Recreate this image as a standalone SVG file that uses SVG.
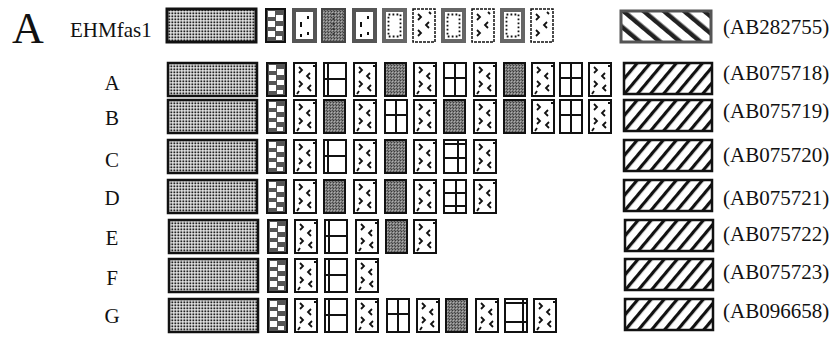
<svg xmlns="http://www.w3.org/2000/svg" xmlns:xlink="http://www.w3.org/1999/xlink" width="833" height="339" viewBox="0 0 833 339">
<style>
.lab{font-family:"Liberation Serif","Times New Roman",serif;font-size:21px;fill:#111}
.big{font-family:"Liberation Serif","Times New Roman",serif;font-size:44px;fill:#111}
.bx{stroke:#111;stroke-width:2}
.ln{stroke:#111;stroke-width:2;fill:none}
.cv{stroke:#111;stroke-width:1.8;fill:none}
</style>
<defs>
<pattern id="stip" width="3" height="3" patternUnits="userSpaceOnUse">
<rect width="3" height="3" fill="#f4f4f4"/><rect x="0.4" y="0.4" width="1.9" height="1.9" fill="#222"/>
</pattern>
<pattern id="mott" width="3" height="3" patternUnits="userSpaceOnUse">
<rect width="3" height="3" fill="#7e7e7e"/><rect x="1" y="0" width="1" height="1" fill="#3a3a3a"/><rect x="0" y="2" width="1" height="1" fill="#4a4a4a"/><rect x="2" y="1" width="1" height="1" fill="#b0b0b0"/>
</pattern>
<pattern id="hr" width="10" height="10" patternUnits="userSpaceOnUse" patternTransform="rotate(40)">
<rect width="10" height="10" fill="#fff"/><rect width="3.2" height="10" fill="#111"/>
</pattern>
<pattern id="hl" width="13" height="13" patternUnits="userSpaceOnUse" patternTransform="rotate(-50)">
<rect width="13" height="13" fill="#fff"/><rect width="4.5" height="13" fill="#222"/>
</pattern>
<g id="dot"><rect x="1" y="1" width="89" height="33" fill="url(#stip)" stroke="#111" stroke-width="2.5"/></g>
<g id="hat"><rect x="1" y="1" width="88" height="31" fill="url(#hr)" stroke="#111" stroke-width="2.5"/></g>
<g id="chk">
<rect x="1" y="1" width="19" height="33" fill="#555" class="bx"/>
<rect x="3" y="3" width="7" height="6" fill="#fff"/><rect x="11" y="7" width="7" height="6" fill="#fff"/>
<rect x="3" y="13" width="7" height="6" fill="#fff"/><rect x="11" y="18" width="7" height="5" fill="#fff"/>
<rect x="3" y="23" width="7" height="6" fill="#fff"/><rect x="11" y="28" width="6" height="4" fill="#fff"/>
</g>
<g id="chev">
<rect x="1" y="1" width="22" height="33" fill="#fff" class="bx"/>
<polyline class="cv" points="6,5 9,8 6,11"/>
<polyline class="cv" points="17,11 14,14 17,17"/>
<polyline class="cv" points="6,19 9,22 6,25"/>
<polyline class="cv" points="18,23 15,26 18,29"/>
<line class="cv" x1="4" y1="32" x2="6" y2="29"/>
<line class="cv" x1="20" y1="4" x2="22" y2="4"/>
</g>
<g id="gray"><rect x="1" y="1" width="21" height="33" fill="url(#mott)" class="bx"/></g>
<g id="win2"><rect x="1" y="1" width="22" height="33" fill="#fff" class="bx"/><line class="ln" x1="1" y1="17" x2="23" y2="17"/><line class="ln" x1="5" y1="1" x2="5" y2="34" stroke-width="1.2"/></g>
<g id="win2t"><rect x="1" y="1" width="22" height="33" fill="#fff" class="bx"/><line class="ln" x1="1" y1="5" x2="23" y2="5"/><line class="ln" x1="1" y1="24" x2="23" y2="24"/><line class="ln" x1="19" y1="1" x2="19" y2="34" stroke-width="1.2"/></g>
<g id="win4"><rect x="1" y="1" width="22" height="33" fill="#fff" class="bx"/><line class="ln" x1="12" y1="1" x2="12" y2="34"/><line class="ln" x1="1" y1="16" x2="23" y2="16"/></g>
<g id="win4t"><rect x="1" y="1" width="22" height="33" fill="#fff" class="bx"/><line class="ln" x1="15" y1="1" x2="15" y2="34"/><line class="ln" x1="1" y1="5" x2="23" y2="5" stroke-width="1.2"/><line class="ln" x1="1" y1="19" x2="23" y2="19"/></g>
<g id="win6"><rect x="1" y="1" width="22" height="33" fill="#fff" class="bx"/><line class="ln" x1="13" y1="1" x2="13" y2="34"/><line class="ln" x1="1" y1="14" x2="23" y2="14"/><line class="ln" x1="1" y1="27" x2="23" y2="27"/></g>
<g id="efd"><rect x="2" y="2" width="21" height="31" fill="#fff" stroke="#555" stroke-width="4"/><line class="ln" x1="9" y1="14" x2="9" y2="19"/><line class="ln" x1="16" y1="8" x2="16" y2="11"/><line class="ln" x1="16" y1="24" x2="16" y2="27"/><line class="ln" x1="9" y1="26" x2="9" y2="29"/></g>
<g id="egray"><rect x="1" y="1" width="23" height="33" fill="url(#mott)" stroke="#444" stroke-width="2"/><line x1="12.5" y1="5" x2="12.5" y2="30" stroke="#333" stroke-width="2" stroke-dasharray="2 3"/></g>
<g id="efdot"><rect x="2" y="2" width="21" height="31" fill="#fff" stroke="#666" stroke-width="4"/><rect x="6.5" y="6.5" width="12" height="22" fill="none" stroke="#111" stroke-width="1.8" stroke-dasharray="1.8 2.2"/></g>
<g id="echev"><rect x="1" y="1" width="22" height="33" fill="#fff" stroke="#111" stroke-width="1.5" stroke-dasharray="3 1"/>
<polyline class="cv" points="6,6 9,9 6,12"/><polyline class="cv" points="17,14 14,17 17,20"/><polyline class="cv" points="6,22 9,25 6,28"/><polyline class="cv" points="17,4 19,6"/></g>
</defs>
<rect width="833" height="339" fill="#fff"/>
<text class="big" x="12" y="43">A</text>
<g id="row-EHM">
<text class="lab" x="70" y="37">EHMfas1</text>
<rect x="167" y="9" width="89" height="33" fill="url(#stip)" stroke="#111" stroke-width="3"/>
<use href="#chk" x="265" y="8"/>
<use href="#efd" x="292" y="8"/>
<use href="#egray" x="321" y="8"/>
<use href="#efd" x="352" y="8"/>
<use href="#efdot" x="382" y="8"/>
<use href="#echev" x="412" y="8"/>
<use href="#efdot" x="441" y="8"/>
<use href="#echev" x="471" y="8"/>
<use href="#efdot" x="500" y="8"/>
<use href="#echev" x="530" y="8"/>
<rect x="621" y="11" width="90" height="31" fill="url(#hl)" stroke="#555" stroke-width="3"/>
<text class="lab" x="723" y="34">(AB282755)</text>
</g>
<g id="row-A">
<text class="lab" x="112" y="90" text-anchor="middle">A</text>
<use href="#dot" x="167" y="62"/><use href="#chk" x="266" y="62"/>
<use href="#chev" x="293" y="62"/><use href="#win2" x="323" y="62"/><use href="#chev" x="353" y="62"/><use href="#gray" x="384" y="62"/><use href="#chev" x="413" y="62"/><use href="#win4" x="443" y="62"/><use href="#chev" x="473" y="62"/><use href="#gray" x="503" y="62"/><use href="#chev" x="531" y="62"/><use href="#win4" x="559" y="62"/><use href="#chev" x="588" y="62"/>
<use href="#hat" x="623" y="62"/>
<text class="lab" x="723" y="80">(AB075718)</text>
</g>
<g id="row-B">
<text class="lab" x="112" y="125" text-anchor="middle">B</text>
<use href="#dot" x="167" y="99"/><use href="#chk" x="266" y="99"/>
<use href="#chev" x="293" y="99"/><use href="#gray" x="323" y="99"/><use href="#chev" x="353" y="99"/><use href="#win4" x="384" y="99"/><use href="#chev" x="413" y="99"/><use href="#gray" x="443" y="99"/><use href="#chev" x="473" y="99"/><use href="#gray" x="503" y="99"/><use href="#chev" x="531" y="99"/><use href="#win4" x="559" y="99"/><use href="#chev" x="588" y="99"/>
<use href="#hat" x="623" y="99"/>
<text class="lab" x="723" y="118">(AB075719)</text>
</g>
<g id="row-C">
<text class="lab" x="112" y="167" text-anchor="middle">C</text>
<use href="#dot" x="167" y="139"/><use href="#chk" x="266" y="139"/>
<use href="#chev" x="293" y="139"/><use href="#win2" x="323" y="139"/><use href="#chev" x="353" y="139"/><use href="#gray" x="384" y="139"/><use href="#chev" x="413" y="139"/><use href="#win4t" x="443" y="139"/><use href="#chev" x="473" y="139"/>
<use href="#hat" x="623" y="139"/>
<text class="lab" x="723" y="162">(AB075720)</text>
</g>
<g id="row-D">
<text class="lab" x="112" y="205" text-anchor="middle">D</text>
<use href="#dot" x="167" y="179"/><use href="#chk" x="266" y="179"/>
<use href="#chev" x="293" y="179"/><use href="#gray" x="323" y="179"/><use href="#chev" x="353" y="179"/><use href="#gray" x="384" y="179"/><use href="#chev" x="413" y="179"/><use href="#win6" x="443" y="179"/><use href="#chev" x="473" y="179"/>
<use href="#hat" x="623" y="179"/>
<text class="lab" x="723" y="205">(AB075721)</text>
</g>
<g id="row-E">
<text class="lab" x="112" y="245" text-anchor="middle">E</text>
<use href="#dot" x="168" y="219"/><use href="#chk" x="267" y="219"/>
<use href="#chev" x="294" y="219"/><use href="#win2" x="324" y="219"/><use href="#chev" x="355" y="219"/><use href="#gray" x="385" y="219"/><use href="#chev" x="413" y="219"/>
<use href="#hat" x="624" y="219"/>
<text class="lab" x="723" y="241">(AB075722)</text>
</g>
<g id="row-F">
<text class="lab" x="112" y="285" text-anchor="middle">F</text>
<use href="#dot" x="168" y="258"/><use href="#chk" x="267" y="258"/>
<use href="#chev" x="294" y="258"/><use href="#win2" x="324" y="258"/><use href="#chev" x="355" y="258"/>
<use href="#hat" x="624" y="258"/>
<text class="lab" x="723" y="279">(AB075723)</text>
</g>
<g id="row-G">
<text class="lab" x="112" y="323" text-anchor="middle">G</text>
<use href="#dot" x="168" y="298"/><use href="#chk" x="267" y="298"/>
<use href="#chev" x="294" y="298"/><use href="#win2" x="324" y="298"/><use href="#chev" x="355" y="298"/><use href="#win4" x="386" y="298"/><use href="#chev" x="416" y="298"/><use href="#gray" x="445" y="298"/><use href="#chev" x="475" y="298"/><use href="#win2t" x="504" y="298"/><use href="#chev" x="533" y="298"/>
<use href="#hat" x="624" y="298"/>
<text class="lab" x="723" y="318">(AB096658)</text>
</g>
</svg>
